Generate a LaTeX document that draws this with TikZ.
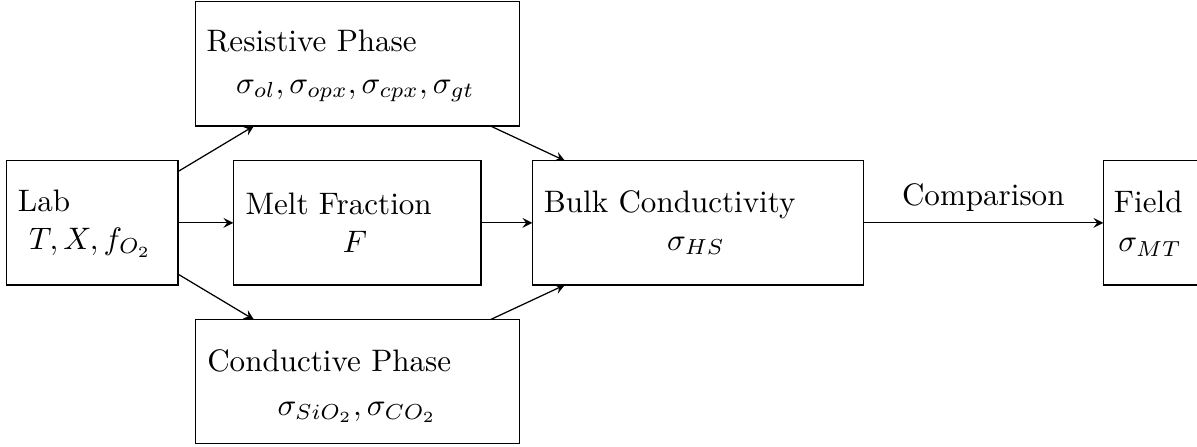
\documentclass[tikz,border=0pt]{standalone}
\usetikzlibrary{arrows}
\begin{document}
\begin{tikzpicture}[x=0.32196pt, y=-0.32196pt,
  box/.style={draw, inner sep=0pt, outer sep=0pt, minimum height=40pt},
  lbl/.style={inner sep=0pt, anchor=base west},
  sub/.style={inner sep=0pt, anchor=base},
  conn/.style={-stealth}]
\useasboundingbox (0,0) rectangle (1197,446);
% boxes
\node[box, minimum width=55.15pt]  (lab)   at (92.35,222.85) {};
\node[box, minimum width=104.19pt] (res)   at (357.5,63.85) {};
\node[box, minimum width=79.75pt]  (melt)  at (357.15,222.85) {};
\node[box, minimum width=104.19pt] (cond)  at (357.5,381.65) {};
\node[box, minimum width=106.57pt] (bulk)  at (697.8,222.85) {};
\node[box, minimum width=30.65pt]  (field) at (1150.9,222.85) {};
% texts
\node[lbl] (labT)   at (17.3,211)   {Lab};
\node[sub] (labS)   at (90.3,249.3) {$T,X,f_{O_2}$};
\node[lbl] (resT)   at (206,51.7)   {Resistive Phase};
\node[sub] (resS)   at (355.3,93.3) {$\sigma_{ol},\sigma_{opx},\sigma_{cpx},\sigma_{gt}$};
\node[lbl] (meltT)  at (245,214)    {Melt Fraction};
\node[sub] (meltS)  at (355,252)    {$F$};
\node[lbl] (condT)  at (206.7,371)  {Conductive Phase};
\node[sub] (condS)  at (357,415)    {$\sigma_{SiO_2},\sigma_{CO_2}$};
\node[lbl] (bulkT)  at (543.3,212.7) {Bulk Conductivity};
\node[sub] (bulkS)  at (696,250)    {$\sigma_{HS}$};
\node[lbl] (fieldT) at (1113.3,212.7) {Field};
\node[sub] (fieldS) at (1150,251.7) {$\sigma_{MT}$};
% connectors
\draw[conn] (lab) -- (res);
\draw[conn] (lab) -- (melt);
\draw[conn] (lab) -- (cond);
\draw[conn] (res) -- (bulk);
\draw[conn] (melt) -- (bulk);
\draw[conn] (cond) -- (bulk);
\draw[conn] (bulk) -- node[above, inner sep=3.3pt] (cmp) {Comparison} (field);
\end{tikzpicture}
\end{document}
